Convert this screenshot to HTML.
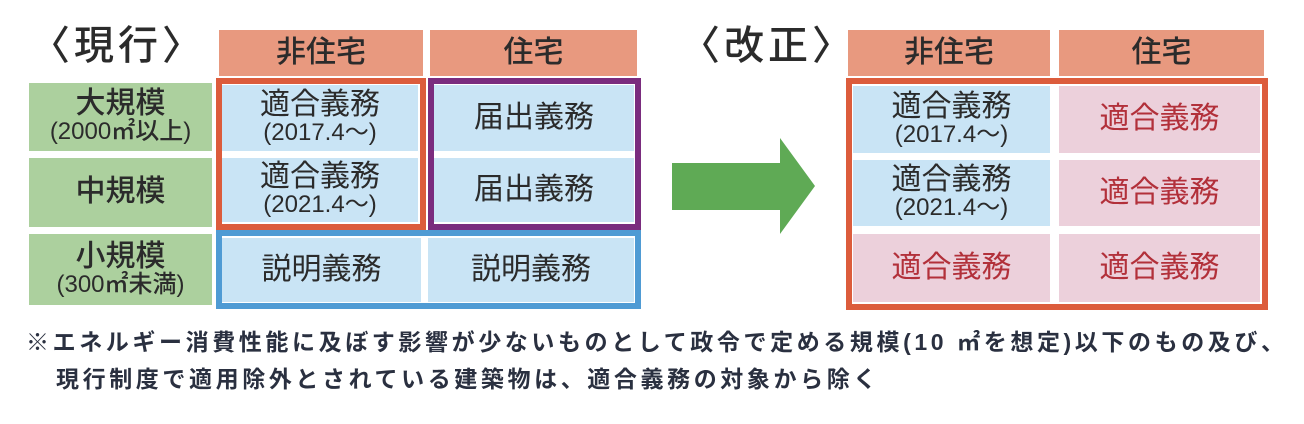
<!DOCTYPE html>
<html><head><meta charset="utf-8"><style>
body{margin:0;width:1304px;height:424px;background:#fff;position:relative;overflow:hidden;font-family:"Liberation Sans","Noto Sans CJK JP",sans-serif;color:#2b2b2b}
div{position:absolute;box-sizing:border-box}
.c{display:flex;flex-direction:column;align-items:center;justify-content:center;text-align:center;line-height:1.02}
.h{background:#e8997f;font-size:30px;font-weight:500}
.g{background:#acd09e;font-size:30px;font-weight:500}
.b{background:#c9e4f5;font-size:30px}
.p{background:#ecd0db;font-size:30px;color:#b2303a}
.s{font-size:24px}
.t{font-size:40px;font-weight:500;letter-spacing:4px;line-height:40px}
</style></head><body>
<div class="t" style="left:30px;top:26px">〈現行〉</div>
<div class="t" style="left:680px;top:26px">〈改正〉</div>

<div class="c h" style="left:219px;top:30px;width:204px;height:46px">非住宅</div>
<div class="c h" style="left:430px;top:30px;width:207px;height:46px">住宅</div>
<div class="c g" style="left:29px;top:83px;width:183px;height:68px">大規模<span class="s">(2000㎡以上)</span></div>
<div class="c g" style="left:29px;top:158px;width:183px;height:69px">中規模</div>
<div class="c g" style="left:29px;top:234px;width:183px;height:71px">小規模<span class="s">(300㎡未満)</span></div>

<div class="c b" style="left:222px;top:85px;width:196px;height:66px">適合義務<span class="s">(2017.4～)</span></div>
<div class="c b" style="left:222px;top:158px;width:196px;height:64px">適合義務<span class="s">(2021.4～)</span></div>
<div class="c b" style="left:434px;top:85px;width:200px;height:66px">届出義務</div>
<div class="c b" style="left:434px;top:158px;width:200px;height:64px">届出義務</div>
<div class="c b" style="left:222px;top:238px;width:199px;height:64px">説明義務</div>
<div class="c b" style="left:428px;top:238px;width:206px;height:64px">説明義務</div>
<div style="left:216px;top:78px;width:210px;height:152px;border:6px solid #dc5c3c"></div>
<div style="left:428px;top:78px;width:213px;height:152px;border:6px solid #7a2c7e"></div>
<div style="left:216px;top:230px;width:425px;height:79px;border:6px solid #4f9bd4"></div>

<svg style="position:absolute;left:0;top:0" width="1304" height="424"><polygon points="672,163 780,163 780,138 815,186 780,234 780,210 672,210" fill="#5faa55"/></svg>

<div class="c h" style="left:848px;top:30px;width:202px;height:46px">非住宅</div>
<div class="c h" style="left:1059px;top:30px;width:205px;height:46px">住宅</div>
<div class="c b" style="left:853px;top:86px;width:197px;height:67px">適合義務<span class="s">(2017.4～)</span></div>
<div class="c b" style="left:853px;top:160px;width:197px;height:66px">適合義務<span class="s">(2021.4～)</span></div>
<div class="c p" style="left:853px;top:234px;width:197px;height:68px">適合義務</div>
<div class="c p" style="left:1059px;top:86px;width:201px;height:67px">適合義務</div>
<div class="c p" style="left:1059px;top:160px;width:201px;height:66px">適合義務</div>
<div class="c p" style="left:1059px;top:234px;width:201px;height:68px">適合義務</div>
<div style="left:846px;top:78px;width:422px;height:232px;border:6px solid #dc5c3c"></div>

<div style="left:26px;top:324px;font-size:23px;letter-spacing:3.6px;font-weight:bold;color:#2a3040;white-space:nowrap;line-height:37px">※エネルギー消費性能に及ぼす影響が少ないものとして政令で定める規模(10 ㎡を想定)以下のもの及び、<br><span style="padding-left:30px">現行制度で適用除外とされている建築物は、適合義務の対象から除く</span></div>
</body></html>
